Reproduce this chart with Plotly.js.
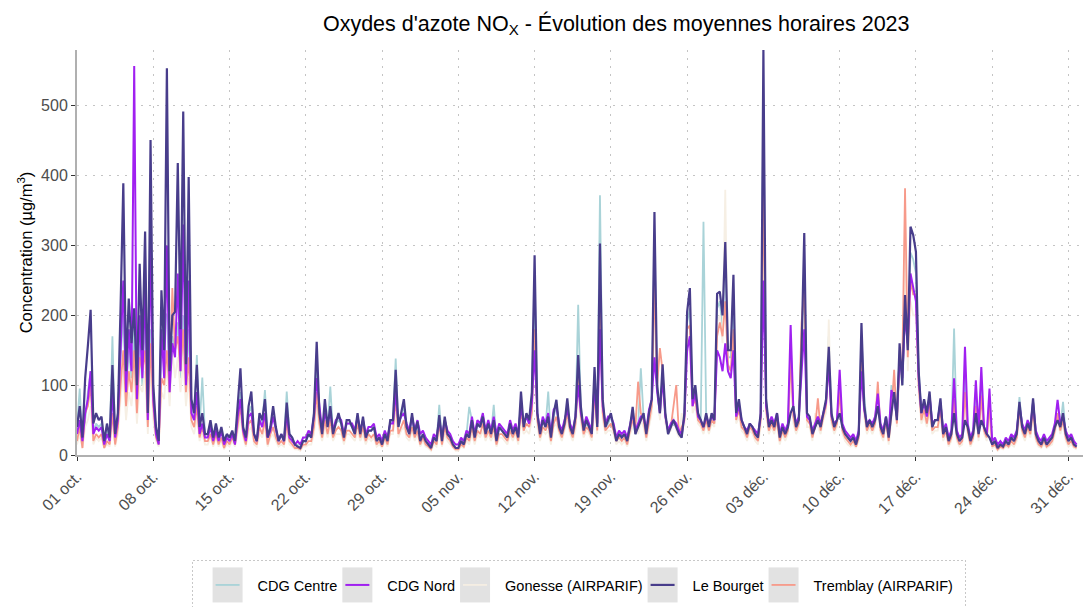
<!DOCTYPE html>
<html><head><meta charset="utf-8">
<script src="https://cdn.plot.ly/plotly-3.0.1.min.js"></script>
<style>html,body{margin:0;padding:0;background:#fff;} #chart{width:1083px;height:607px;}</style>
</head><body><div id="chart"></div>
<script>
// Hourly NOx means, sampled every 6 hours (00h, 06h, 12h, 18h) from 1 Oct 2023
const startDate = '2023-10-01T00:00:00Z';
const stepHours = 6;

const cdgCentre = [
40,95,20,50, 90,120,35,45, 40,45,15,35, 20,170,25,55, 140,200,90,150, 110,180,70,160, 100,200,50,180,
70,35,20,150, 205,200,100,170, 150,190,110,200, 100,180,70,55, 143,40,111,30, 30,45,20,40, 20,35,15,25,
20,30,20,60, 90,35,25,60, 70,30,20,55, 45,93,25,40, 55,35,20,30, 20,91,30,25, 15,15,10,20,
20,30,25,55, 120,60,30,70, 40,98,30,45, 50,45,25,45, 45,40,30,55, 30,50,25,35, 35,40,20,25,
15,30,20,45, 50,138,40,55, 70,40,30,55, 30,45,20,30, 20,15,10,25, 20,72,20,50, 30,25,15,10,
10,20,15,30, 69,50,25,45, 40,50,30,45, 30,72,20,40, 35,30,25,45, 30,40,25,80, 40,55,45,80,
250,60,30,50, 40,91,25,55, 70,40,30,45, 70,40,30,50, 215,65,35,45, 40,30,110,40, 372,75,40,45,
55,40,20,30, 25,30,20,40, 55,30,40,124, 55,30,55,75, 300,95,55,115, 55,30,40,45, 40,30,25,55,
190,210,70,90, 55,50,334,55, 40,55,45,210, 220,180,280,140, 140,230,55,75, 45,40,30,45, 40,30,25,55,
500,75,40,50, 40,55,25,40, 30,40,160,65, 40,50,140,280, 55,50,30,40, 50,40,60,75, 170,55,40,50,
100,40,30,25, 20,25,15,30, 170,86,40,50, 40,50,80,40, 30,55,25,100, 85,50,150,100, 210,150,290,280,
260,124,60,75, 55,85,40,50, 50,78,30,40, 20,30,181,30, 20,25,120,40, 20,30,90,30, 100,40,30,80,
15,20,10,15, 12,20,15,25, 20,30,83,40, 30,45,35,78, 30,20,15,25, 15,20,25,40, 60,40,76,30,
20,25,15,12
];

const cdgNord = [
30,50,20,60, 80,120,30,40, 35,40,15,30, 20,90,25,50, 150,250,90,180, 120,557,80,200, 110,240,50,300,
80,30,15,180, 110,300,90,160, 140,260,120,330, 100,250,60,50, 90,30,45,25, 25,40,20,35, 20,35,15,25,
20,30,15,55, 80,35,20,55, 60,30,20,50, 40,60,25,35, 55,35,20,30, 20,60,25,20, 15,20,15,25,
25,35,30,55, 110,70,35,60, 45,60,35,50, 55,50,30,45, 45,45,35,55, 35,50,30,40, 40,45,25,30,
20,35,25,45, 45,90,45,55, 60,45,35,55, 35,50,30,35, 25,20,15,30, 25,50,25,50, 35,30,20,15,
15,25,20,35, 30,55,30,50, 45,60,35,50, 35,55,30,45, 40,35,30,50, 35,45,30,70, 45,55,45,75,
150,60,35,55, 45,60,30,65, 70,45,35,50, 65,45,35,55, 100,60,40,55, 45,35,100,45, 180,70,45,55,
55,45,25,35, 30,35,25,45, 60,35,45,55, 55,35,65,80, 140,90,60,110, 55,35,45,50, 45,35,30,55,
150,170,70,90, 55,50,40,55, 45,55,50,150, 140,120,160,120, 110,150,55,70, 50,40,35,45, 40,35,30,55,
250,70,45,55, 45,60,30,45, 35,45,186,65, 45,55,120,180, 55,50,35,45, 55,45,60,75, 130,55,45,50,
122,45,35,30, 25,30,20,35, 120,65,45,50, 45,55,88,45, 35,55,30,93, 80,55,140,110, 200,160,260,240,
220,110,60,75, 55,85,45,50, 50,75,35,45, 25,35,110,35, 25,30,155,45, 25,35,107,35, 126,40,30,95,
20,25,15,20, 15,25,20,30, 25,35,70,45, 35,50,40,75, 35,25,20,30, 20,25,30,45, 79,45,55,35,
25,30,20,15
];

const gonesse = [
15,30,10,40, 50,70,15,25, 20,25,10,15, 12,45,12,30, 80,120,50,90, 70,120,45,100, 90,120,30,130,
50,20,12,90, 80,130,70,150, 110,140,90,140, 70,110,40,30, 55,20,30,15, 15,25,12,25, 12,20,8,15,
12,20,12,35, 55,25,12,35, 40,15,12,30, 25,40,12,25, 30,20,12,15, 12,35,15,12, 8,8,6,12,
12,15,15,30, 70,35,20,40, 25,40,20,30, 30,30,15,30, 30,25,20,35, 20,30,15,25, 20,25,12,15,
10,20,12,30, 30,60,25,35, 40,25,20,35, 20,30,12,20, 12,10,6,15, 12,35,12,30, 20,15,10,6,
6,12,10,20, 15,30,15,30, 25,35,20,30, 20,30,12,25, 25,20,15,30, 20,30,15,50, 30,35,30,50,
150,40,20,35, 30,35,15,40, 45,30,20,35, 50,30,20,35, 90,45,25,35, 30,20,70,30, 180,50,30,35,
35,30,15,20, 15,20,12,30, 40,60,30,50, 40,20,40,60, 200,110,50,100, 45,30,35,55, 35,25,60,40,
150,150,60,70, 45,40,30,45, 30,45,40,190, 200,160,380,120, 110,170,45,55, 35,30,20,35, 30,20,15,40,
350,55,30,40, 30,45,15,30, 20,30,120,45, 30,40,140,200, 40,40,20,60, 40,30,50,60, 194,45,30,40,
80,30,20,15, 12,15,10,20, 130,55,30,40, 30,40,80,30, 20,45,15,50, 100,40,120,110, 300,120,220,200,
200,90,45,55, 40,60,30,35, 35,55,20,30, 12,20,70,20, 12,15,70,30, 12,20,55,20, 70,30,20,55,
10,12,6,10, 8,12,10,15, 12,20,55,30, 20,35,25,55, 20,12,10,15, 10,12,15,30, 50,30,45,20,
12,15,10,8
];

const leBourget = [
40,70,25,110, 157,208,45,60, 50,55,20,45, 25,129,30,60, 212,389,120,224, 160,210,100,274, 150,320,60,451,
100,40,20,236, 150,554,120,200, 205,418,180,492, 130,398,80,60, 129,40,60,30, 30,50,25,45, 25,40,20,30,
25,35,20,69, 124,40,25,70, 91,30,20,60, 50,80,25,40, 70,40,20,30, 20,75,30,25, 15,12,10,20,
20,30,25,60, 162,60,30,80, 40,70,30,45, 60,45,25,50, 50,40,30,60, 30,55,25,35, 35,40,20,25,
15,30,20,50, 50,122,40,60, 80,40,30,60, 30,48,20,30, 20,15,10,25, 20,57,20,55, 30,25,15,10,
10,20,15,30, 25,50,25,45, 40,55,30,45, 30,50,20,40, 35,30,25,45, 30,40,25,91, 40,60,50,90,
286,60,30,50, 40,55,25,60, 79,40,30,45, 81,40,30,55, 143,69,35,50, 40,30,126,40, 303,80,40,50,
60,40,20,30, 25,30,20,40, 69,30,40,50, 60,30,60,80, 348,100,60,130, 60,30,40,50, 40,30,25,60,
205,239,80,100, 60,50,40,60, 40,60,50,231, 234,200,305,150, 150,258,60,80, 50,40,30,45, 40,30,25,60,
580,80,40,50, 40,60,25,40, 30,40,60,70, 40,50,150,318, 60,55,30,40, 50,40,60,80, 155,60,40,50,
60,40,30,25, 20,25,15,30, 189,72,40,50, 40,50,70,40, 30,55,25,60, 90,50,160,100, 229,150,327,315,
291,120,60,80, 60,91,40,50, 50,81,30,40, 20,30,60,30, 20,25,50,40, 20,30,60,30, 50,40,30,25,
15,20,10,15, 12,20,15,25, 20,30,76,40, 30,45,35,81, 30,20,15,25, 15,20,25,40, 50,40,60,30,
20,25,15,12
];

const tremblay = [
20,40,10,60, 70,100,20,30, 25,30,10,20, 15,60,15,40, 100,150,70,120, 90,150,60,140, 120,150,40,160,
70,25,15,110, 100,150,90,239, 150,170,120,180, 90,140,50,40, 70,25,40,20, 20,30,15,30, 15,25,10,20,
15,25,15,45, 70,30,15,45, 50,20,15,40, 30,50,15,30, 40,25,15,20, 15,45,20,15, 10,10,8,15,
15,20,20,40, 90,45,25,50, 30,50,25,35, 40,35,20,35, 35,30,25,45, 25,40,20,30, 25,30,15,20,
12,25,15,35, 35,80,30,40, 50,30,25,40, 25,35,15,25, 15,12,8,20, 15,45,15,40, 25,20,12,8,
8,15,12,25, 20,40,20,35, 30,45,25,35, 25,40,15,30, 30,25,20,35, 25,35,20,65, 35,45,40,60,
180,50,25,40, 35,45,20,45, 55,35,25,40, 60,35,25,45, 110,55,30,40, 35,25,90,35, 220,60,35,40,
45,35,20,25, 20,25,15,35, 50,40,105,60, 50,25,50,70, 250,100,153,120, 55,35,40,70, 100,30,40,50,
180,186,70,80, 50,45,35,50, 35,50,45,170, 190,170,220,130, 120,180,50,65, 40,35,25,40, 35,25,20,50,
400,65,35,45, 35,50,20,35, 25,35,140,55, 35,45,189,240, 50,45,25,40, 81,35,55,70, 140,50,35,45,
90,35,25,20, 15,20,12,25, 150,65,35,45, 35,45,105,35, 25,50,20,60, 122,45,140,130, 382,140,250,230,
230,100,50,65, 45,70,35,40, 40,65,25,35, 15,25,80,25, 15,20,90,35, 15,25,70,25, 85,35,25,70,
12,15,8,12, 10,15,12,20, 15,25,65,35, 25,40,30,65, 25,15,12,20, 12,15,20,35, 60,35,50,25,
15,20,12,10
];

const tickDates = ['2023-10-01','2023-10-08','2023-10-15','2023-10-22','2023-10-29','2023-11-05','2023-11-12',
  '2023-11-19','2023-11-26','2023-12-03','2023-12-10','2023-12-17','2023-12-24','2023-12-31'];
const tickLabels = ['01 oct.','08 oct.','15 oct.','22 oct.','29 oct.','05 nov.','12 nov.',
  '19 nov.','26 nov.','03 déc.','10 déc.','17 déc.','24 déc.','31 déc.'];
const yTicks = [0,100,200,300,400,500];

function timeAxis(n){
  const t0 = Date.parse(startDate);
  const out = [];
  for (let i=0;i<n;i++){ out.push(new Date(t0 + i*stepHours*3600000).toISOString().slice(0,16).replace('T',' ')); }
  return out;
}

const specs = [
  {name:'CDG Centre', y:cdgCentre, color:'#a9d3d8', w:1.8, rank:1},
  {name:'Gonesse (AIRPARIF)', y:gonesse, color:'#f6efe4', w:1.8, rank:3},
  {name:'Tremblay (AIRPARIF)', y:tremblay, color:'#f79a8a', w:1.8, rank:5},
  {name:'CDG Nord', y:cdgNord, color:'#a020f0', w:2, rank:2},
  {name:'Le Bourget', y:leBourget, color:'#483d8b', w:2.2, rank:4}
];
const traces = specs.map(s => ({
  type:'scatter', mode:'lines', name:s.name, x:timeAxis(s.y.length), y:s.y,
  line:{color:s.color, width:s.w}, legendrank:s.rank, hoverinfo:'skip'
}));

const gridCol = '#c4c4c4';
const layout = {
  width:1083, height:607,
  margin:{l:77, r:0, t:50, b:152, pad:0},
  paper_bgcolor:'#ffffff', plot_bgcolor:'#ffffff',
  font:{family:'"Liberation Sans", Arial, sans-serif', color:'#000'},
  title:{text:"Oxydes d'azote NO<sub>X</sub> - Évolution des moyennes horaires 2023",
    font:{size:21.5, color:'#000'}, x:0.536, xref:'paper', xanchor:'center', y:0.962, yref:'container', yanchor:'middle'},
  xaxis:{type:'date', range:['2023-10-01 00:00','2024-01-01 08:00'], tickmode:'array', tickvals:tickDates, ticktext:tickLabels,
    tickangle:-45, tickfont:{size:16, color:'#4d4d4d'}, ticks:'outside', ticklen:4, tickwidth:1, tickcolor:'#333',
    showline:true, linecolor:'#b0b0b0', linewidth:2, showgrid:true, gridcolor:gridCol, griddash:'2px,6px', gridwidth:1,
    zeroline:false, fixedrange:true},
  yaxis:{range:[0,580], tickmode:'array', tickvals:yTicks, tickfont:{size:16, color:'#4d4d4d'}, ticks:'outside', ticklen:4,
    tickwidth:1, tickcolor:'#333', showline:true, linecolor:'#b0b0b0', linewidth:2, showgrid:true, gridcolor:gridCol,
    griddash:'2px,6px', gridwidth:1, zeroline:false, fixedrange:true,
    title:{text:'Concentration (µg/m<sup>3</sup>)', font:{size:16.5, color:'#000'}, standoff:4}},
  showlegend:true,
  legend:{orientation:'h', x:0.5, xanchor:'center', y:-0.321, yanchor:'middle', font:{size:14.5, color:'#000'},
    bgcolor:'rgba(0,0,0,0)', bordercolor:'#c8c8c8', borderwidth:1, traceorder:'normal'}
};

Plotly.newPlot('chart', traces, layout, {staticPlot:true, displayModeBar:false}).then(gd => {
  const ns = 'http://www.w3.org/2000/svg';
  const leg = gd.querySelector('g.legend');
  if (!leg) return;
  leg.querySelectorAll('[clip-path]').forEach(el => el.removeAttribute('clip-path'));
  const items = Array.from(leg.querySelectorAll('g.traces'));
  // legend keys: grey box with the coloured line inside
  items.forEach(g => {
    g.querySelectorAll('.legendlines path').forEach(p => p.setAttribute('d', 'M-2,0h24'));
    const r = document.createElementNS(ns, 'rect');
    r.setAttribute('x', '-5'); r.setAttribute('y', '-17.5');
    r.setAttribute('width', '30'); r.setAttribute('height', '35');
    r.setAttribute('fill', '#e2e2e2');
    g.insertBefore(r, g.firstChild);
  });
  // re-space entries: key + text + gap
  const parseT = g => { const m = /translate\(\s*([-\d.]+)[ ,]+([-\d.]+)/.exec(g.getAttribute('transform') || ''); return m ? [parseFloat(m[1]), parseFloat(m[2])] : [0,0]; };
  let pos = parseT(items[0])[0];
  const y0 = parseT(items[0])[1];
  const xs = [];
  items.forEach(g => {
    const tx = g.querySelector('.legendtext');
    const tw = tx ? tx.getBBox().width : 60;
    xs.push(pos);
    pos += tw + 50;
  });
  items.forEach((g, i) => g.setAttribute('transform', 'translate(' + xs[i] + ',' + y0 + ')'));
  // centre entries on the plot area
  const sz = gd._fullLayout._size;
  const target = sz.l + sz.w / 2 + 4;
  let l = Infinity, r = -Infinity, t = Infinity, b = -Infinity;
  items.forEach(g => { const bb = g.getBoundingClientRect(); l = Math.min(l, bb.left); r = Math.max(r, bb.right); t = Math.min(t, bb.top); b = Math.max(b, bb.bottom); });
  const shift = target - (l + r) / 2;
  items.forEach((g, i) => g.setAttribute('transform', 'translate(' + (xs[i] + shift) + ',' + y0 + ')'));
  l += shift; r += shift;
  const bg = leg.querySelector('rect.bg');
  if (bg) {
    bg.style.strokeDasharray = '2px,2px';
    const bgBox = bg.getBoundingClientRect();
    const offX = bgBox.left - (parseFloat(bg.getAttribute('x')) || 0);
    const offY = bgBox.top - (parseFloat(bg.getAttribute('y')) || 0);
    bg.setAttribute('x', (l - 20) - offX);
    bg.setAttribute('width', (r - l) + 30);
    bg.setAttribute('y', (t - 7) - offY);
    bg.setAttribute('height', (b - t) + 30);
  }
});
</script>
</body></html>
